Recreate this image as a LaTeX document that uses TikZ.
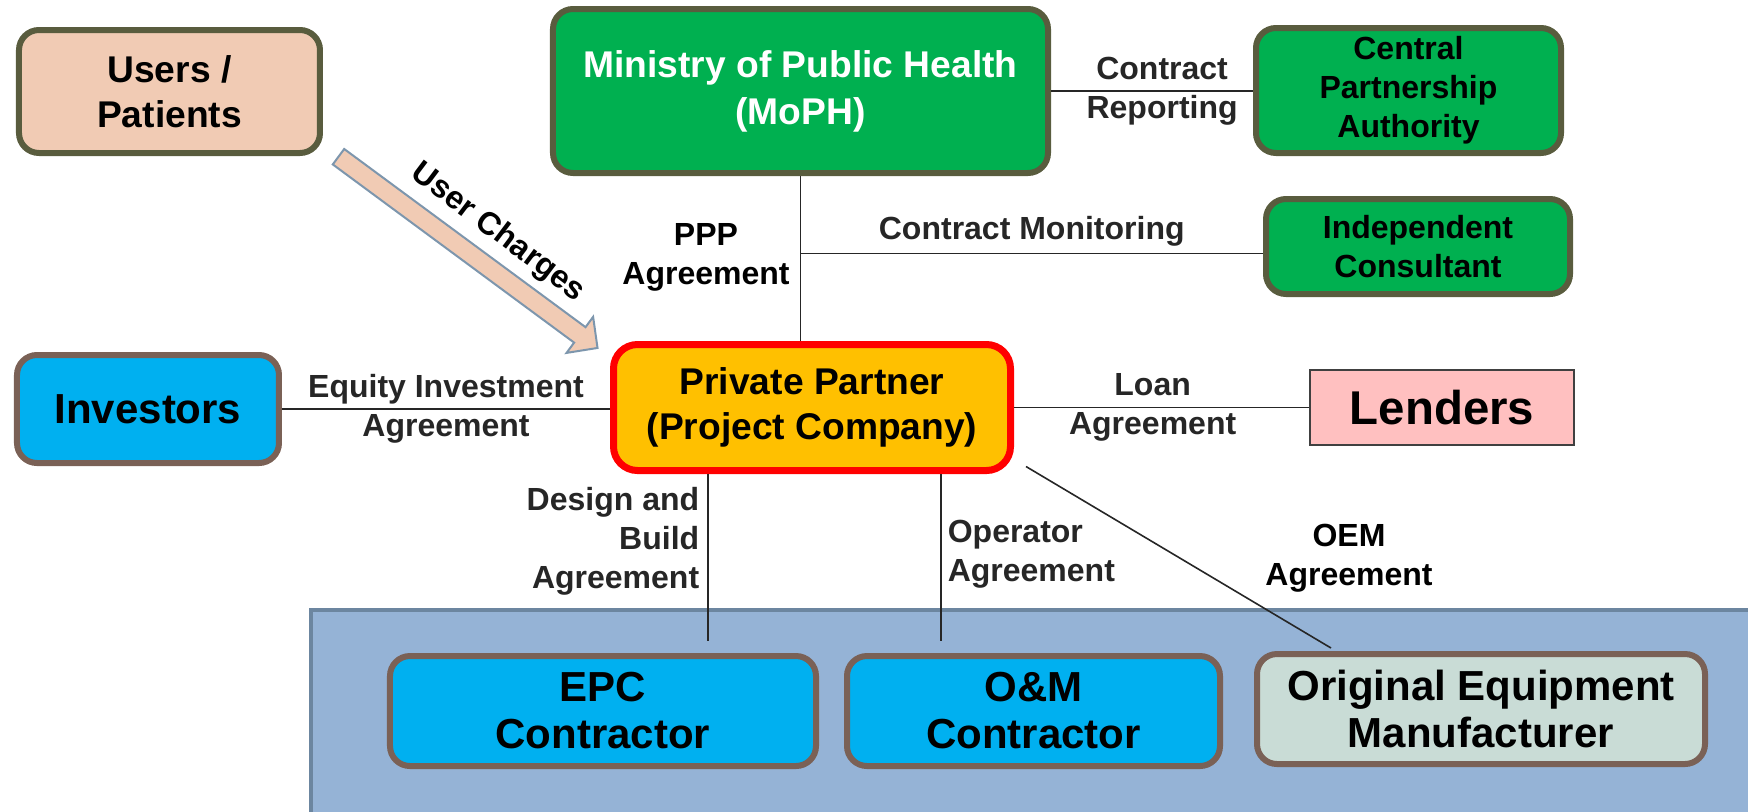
\documentclass[tikz,border=0pt]{standalone}
\usepackage{fontspec}
\setmainfont{Liberation Sans}
\usepackage{xcolor}
\usepackage{tikz}
\usetikzlibrary{calc, positioning}

\definecolor{peachfill}{HTML}{F1CBB4}
\definecolor{oliveline}{HTML}{595C3E}
\definecolor{mophgreen}{HTML}{00B050}
\definecolor{skyfill}{HTML}{00B0F0}
\definecolor{brownline}{HTML}{7A6156}
\definecolor{partnerfill}{HTML}{FFC000}
\definecolor{lenderfill}{HTML}{FFC0C0}
\definecolor{oemfill}{HTML}{C9DCD6}
\definecolor{panelfill}{HTML}{95B3D6}
\definecolor{panelline}{HTML}{6C86A0}
\definecolor{arrowline}{HTML}{7D96AD}

\newcommand{\lblfont}{\bfseries\fontsize{16}{19.5}\selectfont}
\newcommand{\boxfont}{\bfseries\fontsize{18.6}{22.5}\selectfont}
\newcommand{\bigboxfont}{\bfseries\fontsize{21}{23.5}\selectfont}
\newcommand{\lenderfont}{\bfseries\fontsize{23.7}{28}\selectfont}

\tikzset{
    boxnode/.style = {draw, rectangle, rounded corners=10pt, line width=3pt, inner sep=0pt, 
      node distance=0pt, align=center},
    usernode/.style = {boxnode, fill=peachfill, draw=oliveline, font=\boxfont},
    greennode/.style = {boxnode, fill=mophgreen, draw=oliveline, font=\lblfont},
    bluenode/.style = {boxnode, fill=skyfill, draw=brownline, font=\bigboxfont},
    oemnode/.style = {boxnode, fill=oemfill, draw=brownline, font=\bigboxfont},
    partnernode/.style = {boxnode, fill=partnerfill, draw=red, line width=3.5pt, rounded corners=12pt, font=\boxfont},
    lendernode/.style = {draw=black!75, fill=lenderfill, rectangle, line width=1pt, inner sep=0pt, 
      node distance=0pt, font=\lenderfont},
    panelnode/.style = {draw=panelline, fill=panelfill, rectangle, line width=2pt, inner sep=0pt, node distance=0pt},
    textnode/.style = {draw=none, fill=none, rectangle, inner sep=0pt, node distance=0pt, 
      font=\lblfont, align=center},
    connect/.style = {black!85, line width=0.8pt},
    chargearrow/.style = {draw=arrowline, fill=peachfill, line width=1pt, line join=miter}
}

\begin{document}
\begin{tikzpicture}
    \useasboundingbox (-406pt,-201.75pt) rectangle (468pt,203.75pt);
    \clip (-406pt,-201.75pt) rectangle (468pt,203.75pt);

    \node [name=pp, partnernode, minimum width=198.5pt, minimum height=63pt] {Private Partner\\(Project Company)};

    \node [name=panel, panelnode, minimum width=726.5pt, minimum height=110.75pt, 
        right of = pp, xshift=112.75pt, yshift=-156.625pt] {};

    \node [name=users, usernode, minimum width=150.5pt, minimum height=61.5pt, 
        right of = pp, xshift=-321.25pt, yshift=158pt] {Users /\\Patients};
    \node [name=moph, greennode, font=\boxfont\fontsize{18.6}{23.4}\selectfont, text=white, minimum width=247.5pt, minimum height=82pt, 
        right of = pp, xshift=-5.75pt, yshift=158.25pt] {Ministry of Public Health\\(MoPH)};
    \node [name=cpa, greennode, minimum width=152.5pt, minimum height=62.5pt, 
        right of = pp, xshift=298.25pt, yshift=158.5pt] {Central\\Partnership\\Authority};
    \node [name=ic, greennode, minimum width=152pt, minimum height=47.5pt, 
        right of = pp, xshift=303pt, yshift=80.5pt] {Independent\\Consultant};

    \node [name=inv, bluenode, minimum width=131pt, minimum height=54pt, 
        right of = pp, xshift=-332pt, yshift=-0.75pt] {Investors};
    \node [name=lenders, lendernode, minimum width=132pt, minimum height=37.5pt, 
        right of = pp, xshift=315pt] {Lenders};

    \node [name=epc, bluenode, minimum width=213pt, minimum height=55pt, 
        right of = pp, xshift=-104.5pt, yshift=-151.75pt] {EPC\\Contractor};
    \node [name=om, bluenode, minimum width=186.5pt, minimum height=55pt, 
        right of = pp, xshift=110.75pt, yshift=-151.75pt] {O\&M\\Contractor};
    \node [name=oem, oemnode, minimum width=224pt, minimum height=55pt, 
        right of = pp, xshift=334.5pt, yshift=-150.75pt] {Original Equipment\\Manufacturer};

    % MoPH side
    \draw [connect] (moph.east) -- node[textnode, pos=0.55] {Contract\\Reporting} (moph.east -| cpa.west);
    \draw [connect] (moph.south) -- (moph.south |- pp.north);
    \node [name=pppl, textnode, right of = pp, xshift=-53pt, yshift=75.25pt] {PPP\\Agreement};
    \path (moph.south) -- coordinate[pos=0.47] (mon) (moph.south |- pp.north);
    \draw [connect] (mon) -- node[textnode, midway, yshift=11pt] {Contract Monitoring} (mon -| ic.west);

    % finance
    \draw [connect] (inv.east) -- node[textnode, midway] {Equity Investment\\Agreement} (inv.east -| pp.west);
    \draw [connect] (pp.east) -- node[textnode, pos=0.47] {Loan\\Agreement} (lenders.west);

    % contracts
    \coordinate (db) at ([xshift=-52pt]pp.south);
    \draw [connect, shorten >=6pt] (db) -- node[textnode, left=4pt, align=right, pos=0.375] {Design and\\Build\\Agreement} (db |- epc.north);
    \coordinate (op) at ([xshift=64.5pt]pp.south);
    \draw [connect, shorten >=6pt] (op) -- node[textnode, right=3pt, align=left, pos=0.45] {Operator\\Agreement} (op |- om.north);
    \draw [connect] ([xshift=6pt, yshift=3.75pt]pp.south east) -- ([xshift=38.5pt, yshift=1.5pt]oem.north west);
    \node [name=oeml, textnode, right of = pp, xshift=268.5pt, yshift=-75.5pt] {OEM\\Agreement};

    % user charges
    \coordinate (ctail) at ([xshift=7.75pt, yshift=-0.35pt]users.south east);
    \coordinate (ctip) at ([xshift=-8.75pt, yshift=-0.75pt]pp.north west);
    \begin{scope}[shift={(ctail)}, rotate=-36.44]
      \draw [chargearrow] (0pt,-4.8pt) -- (150pt,-4.8pt) -- (150pt,-11.2pt) -- (161pt,0pt) 
        -- (150pt,11.2pt) -- (150pt,4.8pt) -- (0pt,4.8pt) -- cycle;
      \node [name=chargel, textnode, rotate=-37] at (86.8pt,16.7pt) {User Charges};
    \end{scope}
\end{tikzpicture}
\end{document}
